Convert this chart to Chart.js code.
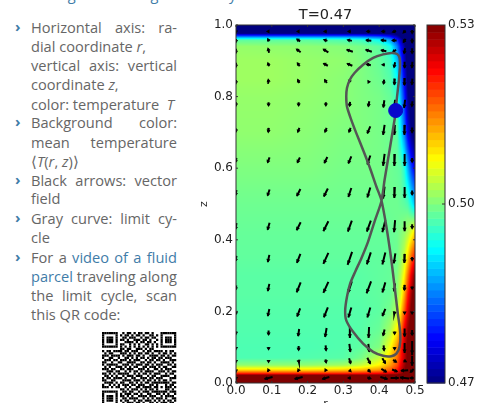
<!DOCTYPE html>
<html>
<head>
<meta charset="utf-8">
<title>T=0.47</title>
<script src="https://cdn.jsdelivr.net/npm/chart.js@4"></script>
<style>
html, body { margin: 0; padding: 0; background: #fff; overflow: hidden; width: 491px; height: 403px; }
#chart { position: absolute; left: 190px; top: 0; }
#qr { position: absolute; left: 102px; top: 332px; }
.ln { position: absolute; left: 31px; width: 146px; height: 19px; font: 400 14.6px/19px "Open Sans", sans-serif; color: #666; white-space: nowrap; }
.j { text-align: justify; text-align-last: justify; white-space: normal; }
.b { position: absolute; left: 15px; font: 700 15px/19px "Open Sans", sans-serif; color: #3f7ca8; }
.l { color: #3f7ca8; }
</style>
</head>
<body>
<div class="ln" style="top:-15px;left:31px;width:195px;color:#3f7ca8">corrugations along the limit cycle</div>
<div class="b" style="top:17px">›</div>
<div class="ln j" style="top:18px">Horizontal axis: ra-</div>
<div class="ln" style="top:37px">dial coordinate <i>r</i>,</div>
<div class="ln j" style="top:56px">vertical axis: vertical</div>
<div class="ln" style="top:75px">coordinate <i>z</i>,</div>
<div class="ln" style="top:95px">color: temperature&nbsp; <i>T</i></div>
<div class="b" style="top:112px">›</div>
<div class="ln j" style="top:113px">Background color:</div>
<div class="ln j" style="top:133px">mean temperature</div>
<div class="ln" style="top:152px">⟨<i>T</i>(<i>r</i>, <i>z</i>)⟩</div>
<div class="b" style="top:170px">›</div>
<div class="ln j" style="top:171px">Black arrows: vector</div>
<div class="ln" style="top:189px">field</div>
<div class="b" style="top:208px">›</div>
<div class="ln j" style="top:209px">Gray curve: limit cy-</div>
<div class="ln" style="top:228px">cle</div>
<div class="b" style="top:247px">›</div>
<div class="ln j" style="top:248px">For a <span class="l">video of a fluid</span></div>
<div class="ln j" style="top:267px"><span class="l">parcel</span> traveling along</div>
<div class="ln j" style="top:286px">the limit cycle, scan</div>
<div class="ln" style="top:305px">this QR code:</div>
<canvas id="qr" width="75" height="75"></canvas>
<canvas id="chart" width="301" height="420"></canvas>
<script>
// axis ticks
var rTicks = [0, 0.1, 0.2, 0.3, 0.4, 0.5];
var zTicks = [0, 0.2, 0.4, 0.6, 0.8, 1.0];
var colorTicks = [0.47, 0.50, 0.53];
var titleText = 'T=0.47';

// mean temperature field, T x 1000, rows top to bottom
var fieldR = [0, 0.1, 0.2, 0.3, 0.35, 0.4, 0.43, 0.45, 0.46, 0.47, 0.48, 0.49, 0.5];
var fieldZ = [1, 0.978, 0.973, 0.966, 0.958, 0.94, 0.9, 0.85, 0.8, 0.7, 0.6, 0.5, 0.42, 0.35, 0.3, 0.25, 0.2, 0.15, 0.1, 0.07, 0.05, 0.036, 0.027, 0.022, 0];
var fieldT = [
	[464, 464, 464, 464, 464, 464, 464, 464, 464, 464, 464, 464, 464],
	[468, 468, 468, 468, 468, 468, 468, 467, 466, 465, 464, 464, 464],
	[476, 476, 476, 476, 476, 475, 473, 470, 468, 466, 465, 464, 464],
	[487, 487, 487, 487, 486, 484, 480, 474, 470, 467, 465, 464, 464],
	[498, 498, 498, 497, 496, 493, 487, 480, 474, 469, 466, 464, 464],
	[501.3, 501, 500.8, 500.3, 499.5, 498, 494, 485, 478, 472, 467, 465, 464],
	[501.8, 501.8, 501.3, 501, 500, 498.5, 496.5, 489, 482, 474, 468, 465, 464],
	[501.8, 501.8, 501.3, 500.6, 500, 499, 497.5, 493, 485, 477, 469, 466, 464],
	[501.3, 501.3, 501, 500.6, 500, 499.5, 498.5, 496, 488, 480, 471, 467, 465],
	[501, 501, 500.6, 500, 500, 499.5, 499, 498, 492, 485, 476, 470, 467],
	[500, 500, 500, 499.5, 499.5, 499.5, 499, 498.5, 498, 495, 488, 481, 476],
	[499, 499, 499, 499, 499, 499, 499, 499, 498.5, 498, 497, 493, 489],
	[498.5, 498.5, 498.5, 498.5, 498.5, 498.5, 498.5, 499, 500, 501, 503, 506, 510],
	[498.2, 498.2, 498.2, 498.2, 498.2, 498.2, 498.5, 499, 501, 504, 510, 517, 522],
	[497.8, 497.8, 497.8, 497.8, 497.8, 498.2, 498.5, 500, 503, 508, 516, 524, 530],
	[497.8, 497.8, 497.8, 497.8, 497.8, 498.2, 498.5, 501, 505, 512, 521, 528, 534],
	[497.5, 497.5, 497.5, 497.5, 497.5, 498, 499.5, 503, 509, 517, 525, 531, 535],
	[497.3, 497.3, 497.3, 497.3, 497.6, 498.6, 502, 508, 515, 523, 529, 533, 536],
	[497, 497, 497, 497.3, 498, 500, 507, 514, 520, 526, 531, 534, 536],
	[497, 497, 497.3, 497.6, 499.5, 504, 510, 516, 521, 526, 531, 534, 536],
	[501, 501, 501, 502, 504, 508, 513, 518, 523, 528, 532, 535, 536],
	[510, 510, 510, 511, 512, 514, 517, 521, 525, 529, 533, 535, 536],
	[520, 520, 520, 520, 521, 522, 524, 526, 528, 531, 534, 535, 536],
	[530, 530, 530, 530, 530, 530, 531, 531, 532, 533, 535, 536, 536],
	[538, 538, 538, 538, 538, 538, 538, 538, 538, 538, 538, 538, 538]
];

// vector field, rows top to bottom
var arrowR = [0, 0.091, 0.175, 0.251, 0.318, 0.371, 0.413, 0.443, 0.471, 0.492];
var arrowZ = [0.982, 0.957, 0.928, 0.889, 0.842, 0.78, 0.707, 0.623, 0.532, 0.438, 0.348, 0.267, 0.197, 0.141, 0.098, 0.062, 0.035, 0.014];
var arrowU = [
	[0, -1, -1, -2, -2, -3, -3, -3, -2, 0],
	[0, -1, -3, -3, -4, -5, -5, -4, -2, 0],
	[0, -1, -4, -5, -6, -6, -5, -3, -1, 0],
	[0, -1, -2, -4, -5, -4, -2, -1, 0, -0.5],
	[0, -0.5, -1.5, -2, -1, -0.5, -0.5, -0.5, -0.5, -0.5],
	[0, 0, 0, 0, -0.5, -1, -1, -1, -1, -0.5],
	[0, -0.5, -1.5, -1.5, -1.5, -3, -1.5, -0.5, -0.5, 0],
	[-1, -2, -2.5, -3, -3, -3, -1.5, -0.5, 0, 0],
	[-1, -2, -3.5, -4, -3, -3, -1.5, -0.5, 0, 0],
	[-1, -2, -4, -5, -4, -4, -3, -1, 0, 0],
	[-1, -1.5, -3.5, -5, -4.5, -4, -3, -1.5, -0.5, 0],
	[-0.5, -1.5, -4, -5, -4, -4.5, -3, -1, -0.5, 0],
	[-0.5, -1.5, -3, -4, -3, -3, -3, -0.5, 0, 0],
	[0, 0, -1, -1.5, 0, -0.5, -1.5, 0, 0, 0],
	[0, 0, 0, 0.5, 1, 1, 0.5, 0, 0, 0],
	[0, 0, 0.5, 0.5, 1.5, 3, 3, 3, 2, 0],
	[0, -0.5, -0.5, -0.5, 1, 2, 5, 5, -7, -3],
	[0, -8, -8, -7, -2, 3, 7, 8, -9, -3]
];
var arrowV = [
	[-1, 0, 0, 0, 0, 0, 0, -1, -2, -3],
	[-3, 2, 2, 1, 1, 0.5, 0.5, 0, -3, -4],
	[-4, 4, 3, 3, 2, 2, 1, -2, -5, -5],
	[-4, 3, 3, 2, 2, 1, 0, -5, -6, -6],
	[-3, 3, 3, 3, 1, -1, -4, -6, -7, -6],
	[-3, -3, -3, -3, -4, -5, -7, -8, -8, -5],
	[-3, -4, -4, -4, -4, -7, -10, -10, -10, -5],
	[-4, -5, -5, -6, -7, -9, -12, -12, -12, -4],
	[-5, -6, -7, -8, -9, -10, -12, -11, -11, -4],
	[-6, -7, -8, -10, -11, -11, -12, -12, -10, -4],
	[-5, -7, -9, -11, -13, -12, -12, -10, -9, -3],
	[-4, -7, -10, -11, -12, -12, -10, -8, -5, -2],
	[-3, -7, -8, -10, -10, -10, -7, -2, -1, 0],
	[-2, -4, -7, -9, -11, -11, -6, -2, -8, -5],
	[-1, -2, -4, -5, -8, -8, -5, -2, -10, -14],
	[-1, -1, -2, -3, -5, -6, -5, -2, -1, -10],
	[0, 1, 1, 1, -1, -2, -3, -2, -0.5, -3],
	[0, -2, -2, -2, 0, -1, -2, 0, 1, 0]
];
// one arrow unit in data units
var arrowScale = 0.0028;

// limit cycle
var cycleR = [0.446, 0.448, 0.452, 0.455, 0.458, 0.457, 0.450, 0.434, 0.411, 0.383, 0.355, 0.331, 0.318, 0.310, 0.308, 0.310, 0.322, 0.336, 0.355, 0.373, 0.392, 0.406, 0.420, 0.434, 0.443, 0.452, 0.459, 0.457, 0.448, 0.434, 0.411, 0.383, 0.355, 0.327, 0.308, 0.305, 0.310, 0.319, 0.333, 0.350, 0.369, 0.387, 0.406, 0.415, 0.429, 0.446];
var cycleZ = [0.761, 0.782, 0.819, 0.847, 0.884, 0.908, 0.919, 0.922, 0.918, 0.908, 0.889, 0.866, 0.847, 0.824, 0.800, 0.772, 0.735, 0.698, 0.651, 0.604, 0.549, 0.511, 0.437, 0.343, 0.269, 0.194, 0.138, 0.101, 0.082, 0.075, 0.076, 0.087, 0.110, 0.143, 0.175, 0.203, 0.241, 0.278, 0.311, 0.348, 0.395, 0.451, 0.507, 0.567, 0.651, 0.754];
var parcelR = [0.446];
var parcelZ = [0.761];

var qrRows = [
	"111111100101101011011010001111111",
	"100000101011010110100110101000001",
	"101110100110111001011011001011101",
	"101110101101001110110100101011101",
	"101110100011110101101101001011101",
	"100000101100101010011010101000001",
	"111111101010101010101010101111111",
	"000000001101100111010110000000000",
	"101101111011011100101101111010110",
	"010110001110101011011010010110101",
	"111011110101110110100111101101011",
	"100110010011010101101011011011100",
	"011101101110101110010110110100111",
	"110010011001111001101101001111010",
	"101111100111010111011010111001101",
	"010100111010101100110111010110011",
	"111011001101110011101001101011100",
	"001110110010101101011110011101011",
	"110101011111001010110101110010110",
	"011010100101110111001011001111001",
	"101101111010011001110110111000111",
	"110011000111101110101101010110100",
	"011110101100110101011011111111011",
	"100101010111011011100110100010110",
	"111010110010100110111101101011101",
	"000000001101011101010110100011010",
	"111111100110110010111011111110111",
	"100000101011101101001100110101001",
	"101110101101010011110111001011110",
	"101110100110111100101010111010011",
	"101110101011001011011101010101101",
	"100000100101110110100110101110110",
	"111111101110011001011011011001011"
];

function jet(v) {
	v = Math.max(0, Math.min(1, v));
	function ramp(c) { return Math.max(0, Math.min(1, 1.5 - Math.abs(4 * v - c))); }
	return [ramp(3) * 255, ramp(2) * 255, ramp(1) * 255];
}

function tempColor(t) {
	return jet((t - colorTicks[0]) / (colorTicks[2] - colorTicks[0]));
}

// index and fraction of a value in an ascending or descending node list
function locate(nodes, value) {
	for (var i = 0; i < nodes.length - 2; i++) {
		if ((value - nodes[i + 1]) * (nodes[1] - nodes[0]) <= 0) break;
	}
	var f = (value - nodes[i]) / (nodes[i + 1] - nodes[i]);
	return [i, Math.max(0, Math.min(1, f))];
}

// keep tick labels from eating into the plot area
function fixBox(a, w, h) {
	if (w) a.width = w;
	if (h) a.height = h;
	a.paddingTop = a.paddingBottom = a.paddingLeft = a.paddingRight = 0;
}

var heatmapPlugin = {
	id: 'heatmap',
	beforeDatasetsDraw: function(chart) {
		var area = chart.chartArea,
			x = chart.scales.x,
			y = chart.scales.y,
			left = Math.round(area.left),
			top = Math.round(area.top),
			w = Math.round(area.right) - left,
			h = Math.round(area.bottom) - top;
		var off = document.createElement('canvas');
		off.width = w;
		off.height = h;
		var octx = off.getContext('2d'),
			img = octx.createImageData(w, h);
		for (var j = 0; j < h; j++) {
			var lz = locate(fieldZ, y.getValueForPixel(top + j + 0.5));
			for (var i = 0; i < w; i++) {
				var lr = locate(fieldR, x.getValueForPixel(left + i + 0.5));
				var a = fieldT[lz[0]][lr[0]] * (1 - lr[1]) + fieldT[lz[0]][lr[0] + 1] * lr[1],
					b = fieldT[lz[0] + 1][lr[0]] * (1 - lr[1]) + fieldT[lz[0] + 1][lr[0] + 1] * lr[1],
					c = tempColor((a * (1 - lz[1]) + b * lz[1]) / 1000),
					k = (j * w + i) * 4;
				img.data[k] = c[0];
				img.data[k + 1] = c[1];
				img.data[k + 2] = c[2];
				img.data[k + 3] = 255;
			}
		}
		octx.putImageData(img, 0, 0);
		chart.ctx.drawImage(off, left, top);
	},
	afterDraw: function(chart) {
		var ctx = chart.ctx,
			area = chart.chartArea,
			x = chart.scales.x,
			y = chart.scales.y,
			c = chart.scales.colorbar,
			barLeft = area.right + 12,
			barRight = area.right + 30;
		// colorbar levels
		var levels = 50;
		for (var n = 0; n < levels; n++) {
			var t0 = colorTicks[0] + (colorTicks[2] - colorTicks[0]) * n / levels,
				t1 = colorTicks[0] + (colorTicks[2] - colorTicks[0]) * (n + 1) / levels,
				col = tempColor((t0 + t1) / 2);
			ctx.fillStyle = 'rgb(' + col.join(',') + ')';
			ctx.fillRect(barLeft, c.getPixelForValue(t1), barRight - barLeft, c.getPixelForValue(t0) - c.getPixelForValue(t1) + 0.5);
		}
		ctx.strokeStyle = '#333';
		ctx.lineWidth = 1;
		ctx.strokeRect(barLeft, area.top, barRight - barLeft, area.bottom - area.top);
		ctx.strokeRect(area.left, area.top, area.right - area.left, area.bottom - area.top);
		// inward ticks
		ctx.beginPath();
		rTicks.forEach(function(v) {
			var p = x.getPixelForValue(v);
			ctx.moveTo(p, area.bottom); ctx.lineTo(p, area.bottom - 2);
			ctx.moveTo(p, area.top); ctx.lineTo(p, area.top + 2);
		});
		zTicks.forEach(function(v) {
			var p = y.getPixelForValue(v);
			ctx.moveTo(area.left, p); ctx.lineTo(area.left + 2, p);
			ctx.moveTo(area.right, p); ctx.lineTo(area.right - 2, p);
		});
		var mid = c.getPixelForValue(colorTicks[1]);
		ctx.moveTo(barRight, mid); ctx.lineTo(barRight - 3, mid);
		ctx.stroke();
		// title over the plot, not over the whole canvas
		ctx.fillStyle = '#222';
		ctx.font = '14.5px "DejaVu Sans"';
		ctx.textAlign = 'center';
		ctx.textBaseline = 'middle';
		ctx.fillText(titleText, (area.left + area.right) / 2, 15);
	}
};

// arrow shafts as one broken line, heads as rotated triangles
var shaftPoints = [], headPoints = [];
arrowZ.forEach(function(z, row) {
	arrowR.forEach(function(r, col) {
		var u = arrowU[row][col], v = arrowV[row][col];
		if (u === 0 && v === 0) { v = -1; }
		var dx = u * arrowScale / 2, dy = v * arrowScale / 2;
		shaftPoints.push({x: r - dx, y: z - dy});
		shaftPoints.push({x: r + dx, y: z + dy});
		shaftPoints.push({x: NaN, y: NaN});
		headPoints.push({x: r + dx * 0.55, y: z + dy * 0.55, angle: Math.atan2(u, v) * 180 / Math.PI});
	});
});

var ctx = document.getElementById('chart');
var chart = new Chart(ctx, {
	type: 'scatter',
	plugins: [heatmapPlugin],
	data: {
		datasets: [
			{
				label: 'parcel',
				data: parcelR.map(function(r, i) { return {x: r, y: parcelZ[i]}; }),
				backgroundColor: '#0808cc',
				borderColor: '#0808cc',
				pointRadius: 7,
				order: 0
			},
			{
				label: 'limit cycle',
				type: 'line',
				data: cycleR.map(function(r, i) { return {x: r, y: cycleZ[i]}; }),
				borderColor: '#555555',
				borderWidth: 2.5,
				pointRadius: 0,
				tension: 0.25,
				fill: false,
				order: 1
			},
			{
				label: 'shafts',
				type: 'line',
				data: shaftPoints,
				borderColor: '#000',
				borderWidth: 2,
				pointRadius: 0,
				spanGaps: false,
				order: 2
			},
			{
				label: 'heads',
				data: headPoints,
				pointStyle: 'triangle',
				backgroundColor: '#000',
				borderWidth: 0,
				pointRadius: 2.4,
				pointRotation: function(c) { return c.raw ? c.raw.angle : 0; },
				order: 2
			}
		]
	},
	options: {
		responsive: false,
		animation: false,
		events: [],
		layout: {padding: {top: 25}},
		plugins: {
			legend: {display: false},
			tooltip: {enabled: false},
			title: {display: false}
		},
		scales: {
			x: {
				type: 'linear',
				min: 0,
				max: 0.5,
				afterBuildTicks: function(a) { a.ticks = rTicks.map(function(v) { return {value: v}; }); },
				afterFit: function(a) { fixBox(a, 0, 37); },
				grid: {display: false, drawTicks: false},
				border: {display: false},
				title: {display: true, text: 'r', color: '#222', font: {family: 'DejaVu Sans', size: 11}, padding: {top: 0, bottom: 9}},
				ticks: {
					color: '#222',
					padding: 1,
					maxRotation: 0,
					autoSkip: false,
					font: {family: 'DejaVu Sans', size: 12},
					callback: function(v) { return v.toFixed(1); }
				}
			},
			y: {
				type: 'linear',
				min: 0,
				max: 1,
				afterBuildTicks: function(a) { a.ticks = zTicks.map(function(v) { return {value: v}; }); },
				afterFit: function(a) { fixBox(a, 46, 0); },
				grid: {display: false, drawTicks: false},
				border: {display: false},
				title: {display: true, text: 'z', color: '#222', font: {family: 'DejaVu Sans', size: 11}, padding: {top: 8, bottom: 0}},
				ticks: {
					color: '#222',
					padding: 3,
					autoSkip: false,
					font: {family: 'DejaVu Sans', size: 12},
					callback: function(v) { return v.toFixed(1); }
				}
			},
			colorbar: {
				type: 'linear',
				position: 'right',
				min: colorTicks[0],
				max: colorTicks[2],
				afterBuildTicks: function(a) { a.ticks = colorTicks.map(function(v) { return {value: v}; }); },
				afterFit: function(a) { fixBox(a, 76, 0); },
				grid: {display: false, drawTicks: false},
				border: {display: false},
				ticks: {
					color: '#222',
					padding: 33,
					autoSkip: false,
					font: {family: 'DejaVu Sans', size: 12},
					callback: function(v) { return v.toFixed(2); }
				}
			}
		}
	}
});

// QR code beside the text
var qr = document.getElementById('qr').getContext('2d');
qr.fillStyle = '#000';
qrRows.forEach(function(row, j) {
	row.split('').forEach(function(cell, i) {
		if (cell === '1') qr.fillRect(i * 2.25, j * 2.25, 2.25, 2.25);
	});
});
</script>
</body>
</html>
